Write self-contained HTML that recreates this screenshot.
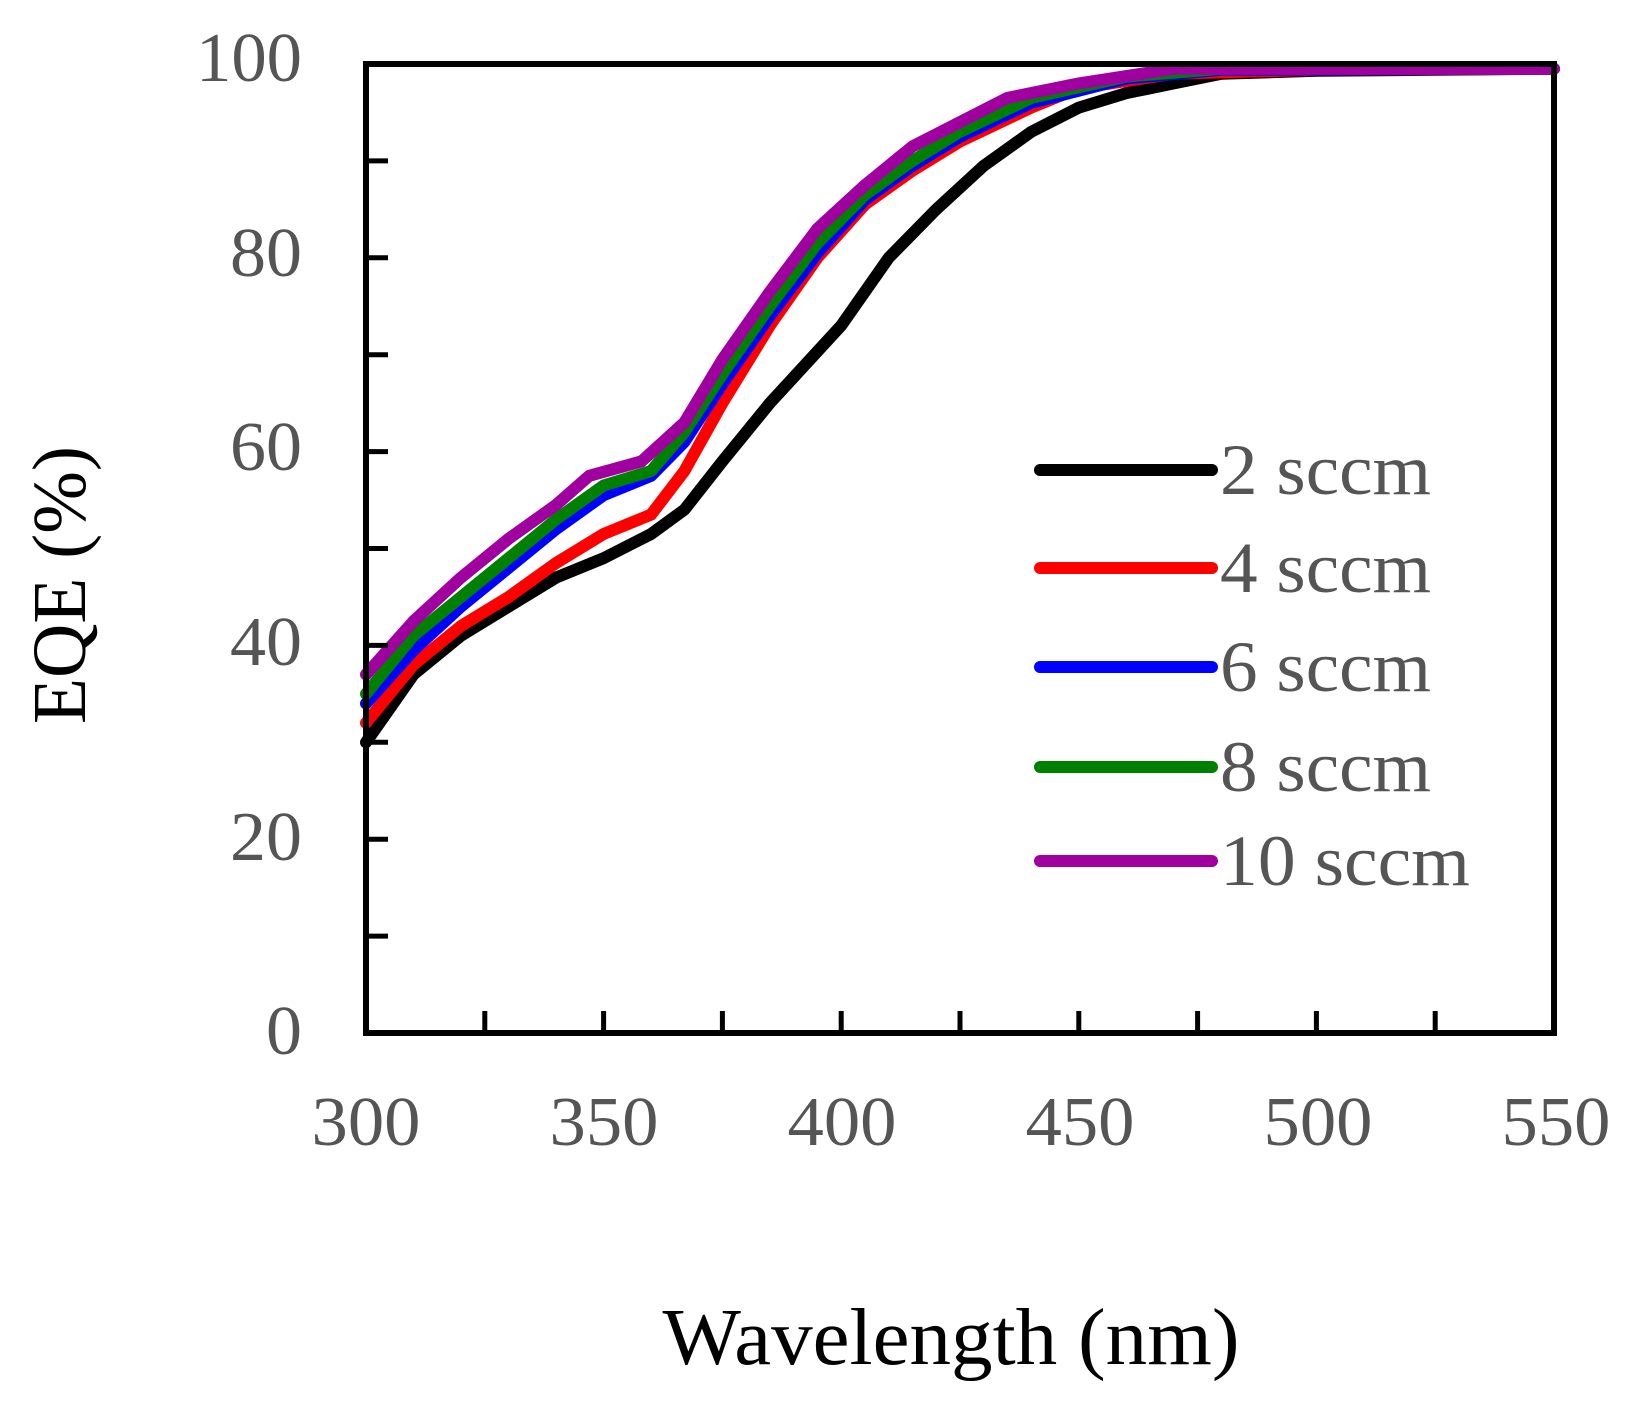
<!DOCTYPE html>
<html><head><meta charset="utf-8"><style>
html,body{margin:0;padding:0;background:#fff}
svg{display:block}
</style></head><body>
<svg id="s" width="1629" height="1404" viewBox="0 0 1629 1404" xmlns="http://www.w3.org/2000/svg">
<g font-family="Liberation Serif, serif" fill="#555" font-size="70">
<text x="302" y="81" text-anchor="end" textLength="106" lengthAdjust="spacingAndGlyphs">100</text>
<text x="302" y="276" text-anchor="end" textLength="72" lengthAdjust="spacingAndGlyphs">80</text>
<text x="302" y="470" text-anchor="end" textLength="72" lengthAdjust="spacingAndGlyphs">60</text>
<text x="302" y="665" text-anchor="end" textLength="72" lengthAdjust="spacingAndGlyphs">40</text>
<text x="302" y="860" text-anchor="end" textLength="72" lengthAdjust="spacingAndGlyphs">20</text>
<text x="302" y="1054" text-anchor="end" textLength="36" lengthAdjust="spacingAndGlyphs">0</text>
<text x="366" y="1145" text-anchor="middle" textLength="109" lengthAdjust="spacingAndGlyphs">300</text>
<text x="604" y="1145" text-anchor="middle" textLength="109" lengthAdjust="spacingAndGlyphs">350</text>
<text x="842" y="1145" text-anchor="middle" textLength="109" lengthAdjust="spacingAndGlyphs">400</text>
<text x="1080" y="1145" text-anchor="middle" textLength="109" lengthAdjust="spacingAndGlyphs">450</text>
<text x="1318" y="1145" text-anchor="middle" textLength="109" lengthAdjust="spacingAndGlyphs">500</text>
<text x="1556" y="1145" text-anchor="middle" textLength="109" lengthAdjust="spacingAndGlyphs">550</text>
</g>
<text x="951" y="1364" text-anchor="middle" font-family="Liberation Serif, serif" font-size="80" fill="#000" textLength="577" lengthAdjust="spacingAndGlyphs">Wavelength (nm)</text>
<text transform="translate(85,585) rotate(-90)" text-anchor="middle" font-family="Liberation Serif, serif" font-size="76" fill="#000" textLength="278" lengthAdjust="spacingAndGlyphs">EQE (%)</text>
<g id="curves" fill="none" stroke-width="12" stroke-linejoin="round" stroke-linecap="round"></g>
<rect x="366" y="64" width="1188" height="969" fill="none" stroke="#000" stroke-width="6"/>
<g id="ticks" stroke="#000" stroke-width="5"></g>
<g id="leg"></g>
</svg>
<script>
var L=366,R=1554,T=64,B=1033;
function X(w){return L+(w-300)*(R-L)/250}
function Y(v){return B-v*(B-T)/100}
var tk=document.getElementById("ticks"),s="";
for(var v=10;v<100;v+=10)s+='<line x1="'+L+'" x2="'+(L+22)+'" y1="'+Y(v)+'" y2="'+Y(v)+'"/>';
for(var w=325;w<550;w+=25)s+='<line x1="'+X(w)+'" x2="'+X(w)+'" y1="'+B+'" y2="'+(B-22)+'"/>';
tk.innerHTML=s;
var data=[
["#000",[[300,30],[310,37],[320,41],[330,44],[340,47],[350,49],[360,51.5],[367,54],[375,59],[385,65],[400,73],[410,80],[420,85],[430,89.5],[440,93],[450,95.5],[460,97],[470,98],[480,99],[500,99.3],[550,99.5]]],
["#f00",[[300,32],[310,38],[320,42],[330,45],[340,48.5],[350,51.5],[360,53.5],[367,58],[375,65],[385,73],[395,80],[405,85.5],[415,89],[425,92],[440,95.5],[450,97.5],[470,99],[500,99.4],[550,99.5]]],
["#00f",[[300,34],[310,39.5],[320,44],[330,48],[340,52],[350,55.5],[360,57.5],[367,61],[375,67],[385,74],[395,80.5],[405,86],[415,89.5],[425,92.5],[440,96],[460,98.5],[480,99.4],[550,99.5]]],
["#008000",[[300,35],[310,41],[320,45],[330,49],[340,53],[350,56.5],[360,58],[367,62],[375,68],[385,75],[395,81.5],[405,86.5],[415,90],[425,93],[440,96.5],[460,98.7],[480,99.5],[550,99.5]]],
["#a0009f",[[300,37],[310,42.5],[320,47],[330,51],[340,54.5],[347,57.5],[358,59],[367,63],[375,69.5],[385,76.5],[395,83],[405,87.5],[415,91.5],[425,94],[435,96.5],[450,98],[470,99.5],[550,99.5]]]
];
var cg=document.getElementById("curves"),h="";
data.forEach(function(d){h+='<polyline stroke="'+d[0]+'" points="'+d[1].map(function(p){return X(p[0]).toFixed(1)+","+Y(p[1]).toFixed(1)}).join(" ")+'"/>';});
cg.innerHTML=h;
var labs=["2 sccm","4 sccm","6 sccm","8 sccm","10 sccm"],lw=[211,211,211,211,250],ly=[470,568,667,767,861],lg="";
for(var i=0;i<5;i++){lg+='<line x1="1040" x2="1212" y1="'+ly[i]+'" y2="'+ly[i]+'" stroke="'+data[i][0]+'" stroke-width="12" stroke-linecap="round"/>';
lg+='<text x="1220" y="'+(ly[i]+24)+'" font-family="Liberation Serif, serif" font-size="72" fill="#555" textLength="'+lw[i]+'" lengthAdjust="spacingAndGlyphs">'+labs[i]+'</text>';}
document.getElementById("leg").innerHTML=lg;
</script>
</body></html>
